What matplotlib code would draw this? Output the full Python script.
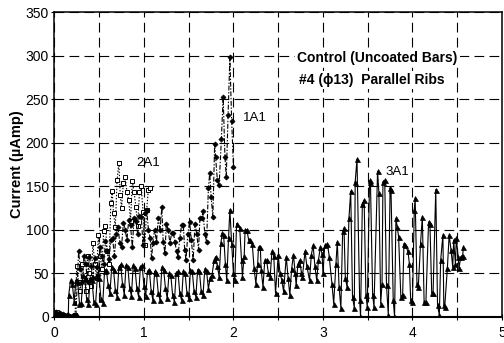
import matplotlib
matplotlib.use("Agg")
import matplotlib.pyplot as plt
from matplotlib.ticker import MultipleLocator

plt.rcParams['font.family'] = ['Liberation Sans', 'DejaVu Sans']
plt.rcParams['lines.scale_dashes'] = False

# Bar 3A1 - current (uA) against time
x_3a1 = [0.00, 0.03, 0.05, 0.08, 0.10, 0.12, 0.14, 0.155,
         0.16, 0.18, 0.20, 0.22, 0.24, 0.26, 0.28, 0.30, 0.32, 0.34, 0.36, 0.38,
         0.40, 0.42, 0.44, 0.46, 0.48, 0.50, 0.52, 0.54, 0.56, 0.58, 0.60, 0.62,
         0.64, 0.66, 0.68, 0.70, 0.72, 0.74, 0.76, 0.78, 0.80, 0.82, 0.84, 0.86,
         0.88, 0.90, 0.92, 0.94, 0.96, 0.98, 1.00, 1.02, 1.04, 1.06, 1.08, 1.10,
         1.12, 1.14, 1.16, 1.18, 1.20, 1.22, 1.24, 1.26, 1.28, 1.30, 1.32, 1.34,
         1.36, 1.38, 1.40, 1.42, 1.44, 1.46, 1.48, 1.50, 1.52, 1.54, 1.56, 1.58,
         1.60, 1.62, 1.64, 1.66, 1.68, 1.70, 1.72, 1.74, 1.76, 1.785, 1.80, 1.82,
         1.84, 1.86, 1.875, 1.89, 1.91, 1.925, 1.945, 1.96, 1.98, 2.00, 2.015, 2.035,
         2.07, 2.09, 2.10, 2.12, 2.13, 2.15, 2.17, 2.19, 2.21, 2.23, 2.25, 2.27,
         2.28, 2.30, 2.31, 2.33, 2.35, 2.37, 2.39, 2.41, 2.43, 2.45, 2.47, 2.50,
         2.52, 2.54, 2.56, 2.59, 2.61, 2.63, 2.65, 2.67, 2.69, 2.70, 2.72, 2.74,
         2.76, 2.77, 2.80, 2.82, 2.85, 2.87, 2.89, 2.91, 2.93, 2.95, 2.97, 2.99,
         3.00, 3.02, 3.05, 3.07, 3.10, 3.12, 3.145, 3.16, 3.18, 3.20, 3.22, 3.235,
         3.25, 3.27, 3.29, 3.31, 3.33, 3.35, 3.36, 3.38, 3.41, 3.42, 3.44, 3.46,
         3.48, 3.495, 3.52, 3.53, 3.555, 3.57, 3.61, 3.625, 3.645, 3.66, 3.67, 3.69,
         3.71, 3.73, 3.75, 3.76, 3.785, 3.80, 3.815, 3.83, 3.845, 3.87, 3.89, 3.905,
         3.92, 3.95, 3.965, 3.98, 4.00, 4.02, 4.03, 4.05, 4.065, 4.09, 4.11, 4.13,
         4.15, 4.18, 4.195, 4.215, 4.23, 4.26, 4.28, 4.30, 4.315, 4.34, 4.35, 4.36,
         4.39, 4.41, 4.43, 4.45, 4.46, 4.48, 4.49, 4.51, 4.52, 4.54, 4.56, 4.57]
y_3a1 = [2, 3, 1, 2, 0, 1, 0, 3,
         25, 42, 38, 17, 42, 40, 15, 16, 48, 44, 20, 15,
         44, 42, 17, 15, 47, 44, 20, 16, 52, 54, 36, 27,
         57, 54, 31, 23, 57, 60, 38, 25, 59, 57, 33, 24,
         59, 56, 33, 23, 57, 59, 35, 24, 52, 54, 30, 19,
         52, 50, 27, 19, 57, 54, 33, 21, 50, 48, 25, 17,
         50, 52, 27, 19, 52, 50, 27, 21, 54, 52, 29, 23,
         54, 52, 29, 25, 55, 52, 32, 45, 48, 65, 69, 58,
         46, 85, 96, 94, 60, 42, 90, 123, 84, 50, 42, 107,
         102, 65, 46, 70, 100, 100, 88, 88, 84, 56, 38, 60,
         80, 80, 54, 34, 65, 65, 50, 46, 75, 70, 27, 71,
         50, 42, 29, 69, 45, 25, 55, 71, 50, 36, 60, 65,
         50, 46, 75, 58, 42, 71, 82, 58, 42, 65, 80, 72,
         50, 82, 84, 69, 38, 15, 61, 86, 34, 10, 98, 102,
         44, 34, 113, 144, 23, 10, 155, 181, 19, 0, 130, 134,
         25, 11, 155, 157, 25, 11, 167, 142, 15, 38, 155, 157,
         36, 2, 148, 146, 19, 0, 113, 103, 92, 23, 25, 84,
         82, 75, 61, 19, 17, 123, 136, 38, 34, 84, 115, 17,
         17, 109, 107, 27, 27, 146, 13, 2, 65, 94, 13, 11,
         56, 94, 77, 57, 88, 61, 90, 69, 56, 69, 70, 80]

# Bar 1A1
x_1a1 = [0.00, 0.02, 0.04, 0.06, 0.08, 0.10, 0.12, 0.14, 0.16, 0.18, 0.20, 0.22, 0.24,
         0.27, 0.29, 0.31, 0.33, 0.35, 0.37, 0.39, 0.41, 0.43, 0.45, 0.47, 0.49,
         0.51, 0.53, 0.55, 0.57, 0.59, 0.61, 0.63, 0.65, 0.67, 0.69, 0.71, 0.73,
         0.75, 0.77, 0.79, 0.81, 0.83, 0.85, 0.87, 0.89, 0.91, 0.93, 0.95, 0.97,
         0.99, 1.01, 1.03, 1.05, 1.07, 1.085, 1.10, 1.12, 1.14, 1.16, 1.18, 1.20,
         1.215, 1.235, 1.25, 1.27, 1.29, 1.31, 1.33, 1.345, 1.365, 1.38, 1.40, 1.42,
         1.44, 1.455, 1.47, 1.49, 1.51, 1.53, 1.55, 1.57, 1.59, 1.61, 1.625, 1.645,
         1.66, 1.68, 1.70, 1.72, 1.735, 1.75, 1.77, 1.79, 1.80, 1.82, 1.84, 1.865,
         1.885, 1.905, 1.92, 1.94, 1.96, 1.98, 2.00]
y_1a1 = [3, 5, 2, 4, 1, 3, 0, 2, 1, 0, 1, 2, 2,
         75, 55, 40, 70, 60, 40, 69, 58, 45, 67, 57, 48,
         80, 70, 60, 87, 75, 66, 88, 90, 70, 95, 103, 85,
         80, 108, 100, 88, 111, 105, 80, 113, 110, 95, 116, 115,
         82, 119, 123, 100, 90, 67, 85, 100, 86, 113, 100, 126,
         86, 73, 107, 100, 85, 96, 96, 86, 75, 69, 90, 105,
         105, 77, 65, 95, 109, 88, 65, 107, 95, 77, 113, 113,
         121, 95, 86, 148, 165, 138, 115, 199, 184, 157, 151, 204,
         253, 183, 161, 232, 298, 225, 172]

# Bar 2A1
x_2a1 = [0.00, 0.03, 0.05, 0.08, 0.10, 0.13, 0.15, 0.18, 0.21, 0.23,
         0.25, 0.27, 0.29, 0.31, 0.33, 0.35, 0.37, 0.39, 0.41, 0.43, 0.45, 0.47,
         0.49, 0.51, 0.53, 0.55, 0.57, 0.59, 0.61, 0.63, 0.645, 0.66, 0.68, 0.70,
         0.72, 0.735, 0.75, 0.77, 0.79, 0.81, 0.83, 0.85, 0.87, 0.89, 0.91, 0.93,
         0.95, 0.97, 0.99, 1.01, 1.03, 1.05, 1.07]
y_2a1 = [2, 5, 3, 1, 2, 0, 1, 0, 0, 2,
         58, 40, 30, 60, 45, 30, 70, 50, 35, 85, 60, 45,
         94, 70, 55, 98, 104, 75, 60, 131, 144, 119, 103, 157,
         177, 140, 125, 154, 161, 143, 134, 110, 156, 143, 126, 104,
         143, 150, 120, 82, 123, 146, 148]

series_labels = ["1A1", "2A1", "3A1"]
label_pos = [(2.24, 228), (1.05, 177), (3.83, 166)]
title_lines = ["Control (Uncoated Bars)", "#4 (\u03d513)  Parallel Ribs"]

fig = plt.figure(figsize=(5.04, 3.43), dpi=100)
ax = fig.add_axes([0.108, 0.0767, 0.888, 0.888])

ax.plot(x_2a1, y_2a1, linestyle=(0, (1.0, 1.2)), color='black', lw=0.8,
        marker='s', ms=3.4, mfc='white', mec='black', mew=0.7, zorder=3)
ax.plot(x_1a1, y_1a1, linestyle=(0, (3.5, 1.2, 1.0, 1.2)), color='black', lw=0.8,
        marker='D', ms=2.6, mfc='black', mec='black', mew=0.5, zorder=4)
ax.plot(x_3a1, y_3a1, linestyle='-', color='black', lw=0.8,
        marker='^', ms=3.6, mfc='black', mec='black', mew=0.5, zorder=5)

ax.set_xlim(0, 5)
ax.set_ylim(0, 350)
ax.xaxis.set_major_locator(MultipleLocator(1))
ax.xaxis.set_minor_locator(MultipleLocator(0.5))
ax.yaxis.set_major_locator(MultipleLocator(50))

grid_kw = dict(color='black', lw=0.8, linestyle=(0, (7, 3.8)))
ax.grid(axis='x', which='both', **grid_kw)
ax.grid(axis='y', which='major', **grid_kw)
ax.set_axisbelow(True)

for side in ['left', 'top', 'right']:
    ax.spines[side].set_linewidth(1.1)
ax.spines['bottom'].set_linewidth(1.5)

ax.tick_params(axis='x', which='both', direction='inout', length=4, width=0.8,
               labelsize=10, pad=5)
ax.tick_params(axis='y', which='major', direction='out', length=2.5, width=0.8,
               labelsize=10, pad=1.5)

ax.set_ylabel("Current (\u00b5Amp)", fontsize=10.5, fontweight='bold', labelpad=1)

for text, (tx, ty) in zip(series_labels, label_pos):
    ax.text(tx, ty, text, fontsize=9.5, ha='center', va='center', zorder=6)

box = dict(facecolor='white', edgecolor='none', pad=1.5)
ax.text(3.61, 297, title_lines[0], fontsize=10, fontweight='bold',
        ha='center', va='center', zorder=6, bbox=box)
ax.text(3.55, 272, title_lines[1], fontsize=10, fontweight='bold',
        ha='center', va='center', zorder=6, bbox=box)

fig.savefig("out.png", dpi=100)
